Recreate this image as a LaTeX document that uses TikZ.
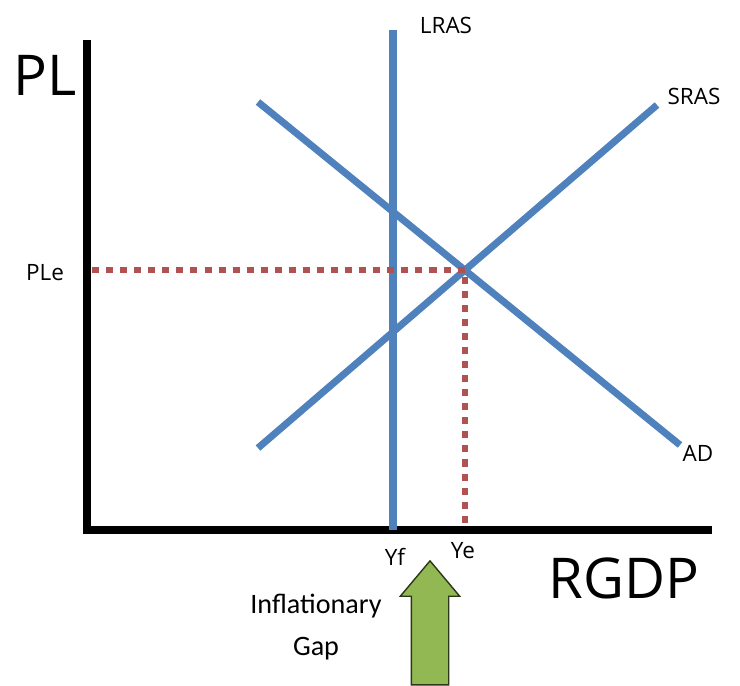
\documentclass[tikz,border=0pt]{standalone}
\usepackage{fontspec}
\setmainfont{Open Sans}
\newfontfamily\gapfont{Carlito}
\definecolor{curveblue}{RGB}{79, 129, 189}
\definecolor{dotred}{RGB}{176, 82, 82}
\definecolor{gapgreen}{RGB}{146, 184, 84}
\usetikzlibrary{shapes.arrows, positioning, calc}

\begin{document}
\begin{tikzpicture}[x=0.025cm, y=-0.025cm,
  axis/.style={line width=5pt, black},
  curve/.style={line width=5pt, curveblue},
  guide/.style={line width=4.5pt, dotred, dash pattern=on 5pt off 5pt},
  lbl/.style={font=\fontsize{16}{18}\selectfont, inner sep=1pt},
  biglbl/.style={font=\fontsize{40}{44}\selectfont, inner sep=0pt}
]
  \useasboundingbox (0,0) rectangle (740,685);
  % axes
  \coordinate (origin) at (87,530);
  \coordinate (ytop) at (87,40);
  \coordinate (xend) at (712,530);
  \draw[axis] (ytop) -- (origin) -- (xend);
  \node[biglbl] (pl) at (45,75) {PL};
  \node[biglbl] (rgdp) at (624,578) {RGDP};
  % curves
  \coordinate (lrasTop) at (393,30);
  \coordinate (lrasBot) at (393,530);
  \coordinate (srasLo) at (258,448);
  \coordinate (srasHi) at (657,105);
  \coordinate (adHi) at (258,102);
  \coordinate (adLo) at (680,445);
  \draw[curve] (lrasBot) -- (lrasTop);
  \draw[curve] (srasLo) -- (srasHi);
  \draw[curve] (adHi) -- (adLo);
  \node[lbl] (lras) at (446,25) {LRAS};
  \node[lbl] (sras) at (694,96) {SRAS};
  \node[lbl] (ad) at (698,453) {AD};
  % equilibrium
  \coordinate (eq) at (465,270);
  \coordinate (ple) at (92,270);
  \coordinate (ye) at (465,527);
  \draw[guide] (ple) -- (eq) -- (ye);
  \node[lbl] (pleLbl) at (45,273) {PLe};
  \node[lbl] (yfLbl) at (395,557) {Yf};
  \node[lbl] (yeLbl) at (463,551) {Ye};
  % gap arrow
  \node[single arrow, draw=black!70!gapgreen, line width=1pt, fill=gapgreen,
        shape border rotate=90, text width=0.9cm, inner sep=0pt,
        single arrow head extend=0.275cm, single arrow tip angle=80,
        minimum height=3.1cm] (gap) at (430,634) {};
  \node[font=\gapfont\fontsize{20}{30}\selectfont, align=center] (gapLbl) at (316,627) {Inflationary\\Gap};
\end{tikzpicture}
\end{document}
